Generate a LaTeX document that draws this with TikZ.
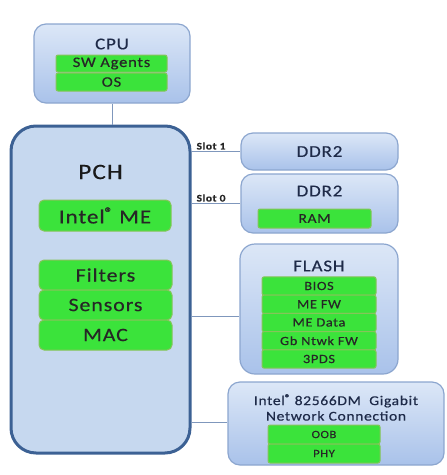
\documentclass[tikz,border=0pt]{standalone}
\usepackage{fontspec}
\setmainfont{Carlito}[FakeStretch=1.15, LetterSpace=5, FakeBold=0.4]

\definecolor{boxtop}{HTML}{DCE7F7}
\definecolor{boxbot}{HTML}{A9C2EA}
\definecolor{boxline}{HTML}{8CA6CF}
\definecolor{pchfill}{HTML}{C6D8EF}
\definecolor{pchline}{HTML}{3C6194}
\definecolor{bargreen}{HTML}{3BE33B}
\definecolor{barline}{HTML}{86C45A}
\definecolor{linkc}{HTML}{7F97BC}
\definecolor{titlec}{HTML}{1E2A48}

\newcommand{\regmark}{\raisebox{0.3em}{\scalebox{0.72}{®}}}

\tikzset{
  box/.style={draw=boxline, line width=1.2pt, rounded corners=12pt, top color=boxtop, bottom color=boxbot},
  bar/.style={draw=barline, line width=1pt, fill=bargreen, rounded corners=2pt, inner sep=0pt, text=black!85},
  link/.style={draw=linkc, line width=0.9pt},
  slot/.style={font=\fontsize{10}{11}\selectfont\bfseries, text=black!85, inner sep=1.5pt}
}

\begin{document}
\begin{tikzpicture}[x=1pt, y=-1pt]
    \useasboundingbox (0,0) rectangle (447,475);

    % CPU 方框
    \node[box, minimum width=156pt, minimum height=79pt] (cpu) at (112,63.5) {};
    \node[text=titlec, font=\fontsize{16.5}{18}\selectfont] (cputitle) at (112,44) {CPU};
    \node[bar, minimum width=111pt, minimum height=17pt, font=\fontsize{14.5}{16}\selectfont] (swagents) at (111.5,63.5) {SW Agents};
    \node[bar, minimum width=111pt, minimum height=18pt, font=\fontsize{14.5}{16}\selectfont] (os) at (111.5,82) {OS};

    % PCH 方框
    \node[draw=pchline, line width=3pt, fill=pchfill, rounded corners=25pt, minimum width=179pt, minimum height=327pt] (pch) at (100.5,289.5) {};
    \node[text=black!90, font=\fontsize{22}{24}\selectfont] (pchtitle) at (100.5,172) {PCH};
    \node[bar, rounded corners=5pt, minimum width=132pt, minimum height=31pt, font=\fontsize{20}{22}\selectfont] (intelme) at (105,215.5) {Intel\regmark\ ME};
    \node[bar, rounded corners=5pt, minimum width=133pt, minimum height=30pt, font=\fontsize{19}{21}\selectfont] (filters) at (105.5,275) {Filters};
    \node[bar, rounded corners=5pt, minimum width=133pt, minimum height=30pt, font=\fontsize{19}{21}\selectfont] (sensors) at (105.5,305) {Sensors};
    \node[bar, rounded corners=5pt, minimum width=133pt, minimum height=30pt, font=\fontsize{19}{21}\selectfont] (mac) at (105.5,335) {MAC};

    % 内存
    \node[box, minimum width=157pt, minimum height=37pt] (ddra) at (319.5,151.5) {};
    \node[text=titlec, font=\fontsize{16.5}{18}\selectfont] (ddratitle) at (319.5,151.5) {DDR2};
    \node[box, minimum width=157pt, minimum height=59pt] (ddrb) at (319.5,203.5) {};
    \node[text=titlec, font=\fontsize{16.5}{18}\selectfont] (ddrbtitle) at (319.5,191) {DDR2};
    \node[bar, minimum width=113pt, minimum height=19pt, font=\fontsize{13.5}{15}\selectfont] (ram) at (314.5,218.5) {RAM};

    % FLASH 方框
    \node[box, rounded corners=15pt, minimum width=158pt, minimum height=130pt] (flash) at (319,309) {};
    \node[text=titlec, font=\fontsize{16.5}{18}\selectfont] (flashtitle) at (319,266) {FLASH};
    \node[bar, minimum width=114pt, minimum height=18.25pt, font=\fontsize{12.5}{14}\selectfont] (bios) at (319,286) {BIOS};
    \node[bar, minimum width=114pt, minimum height=18.25pt, font=\fontsize{12.5}{14}\selectfont] (mefw) at (319,304.25) {ME FW};
    \node[bar, minimum width=114pt, minimum height=18.25pt, font=\fontsize{12.5}{14}\selectfont] (medata) at (319,322.5) {ME Data};
    \node[bar, minimum width=114pt, minimum height=18.25pt, font=\fontsize{12.5}{14}\selectfont] (gbfw) at (319,340.75) {Gb Ntwk FW};
    \node[bar, minimum width=114pt, minimum height=18.25pt, font=\fontsize{12.5}{14}\selectfont] (pds) at (319,359) {3PDS};

    % 网卡
    \node[box, minimum width=216pt, minimum height=83pt] (nic) at (336,423.5) {};
    \node[text=titlec, align=center, font=\fontsize{13.5}{15.5}\selectfont] (nictitle) at (336,407.5) {Intel\regmark\ 82566DM\ \ Gigabit\\Network Connection};
    \node[bar, minimum width=112pt, minimum height=19pt, font=\fontsize{11}{13}\selectfont] (oob) at (324,434.5) {OOB};
    \node[bar, minimum width=112pt, minimum height=19pt, font=\fontsize{11}{13}\selectfont] (phy) at (324,453.5) {PHY};

    % 连线
    \draw[link] (cpu.south) -- (cpu.south |- pch.north); % CPU 到 PCH
    \draw[link] (pch.east |- ddra.west) -- (ddra.west) node[slot, pos=0.4, above] {Slot 1};
    \draw[link] (pch.east |- ddrb.west) -- (ddrb.west) node[slot, pos=0.4, above] {Slot 0};
    \draw[link] (pch.east |- 0,316) -- (flash.west |- 0,316);
    \draw[link] (pch.east |- 0,422) -- (nic.west |- 0,422);
\end{tikzpicture}
\end{document}
